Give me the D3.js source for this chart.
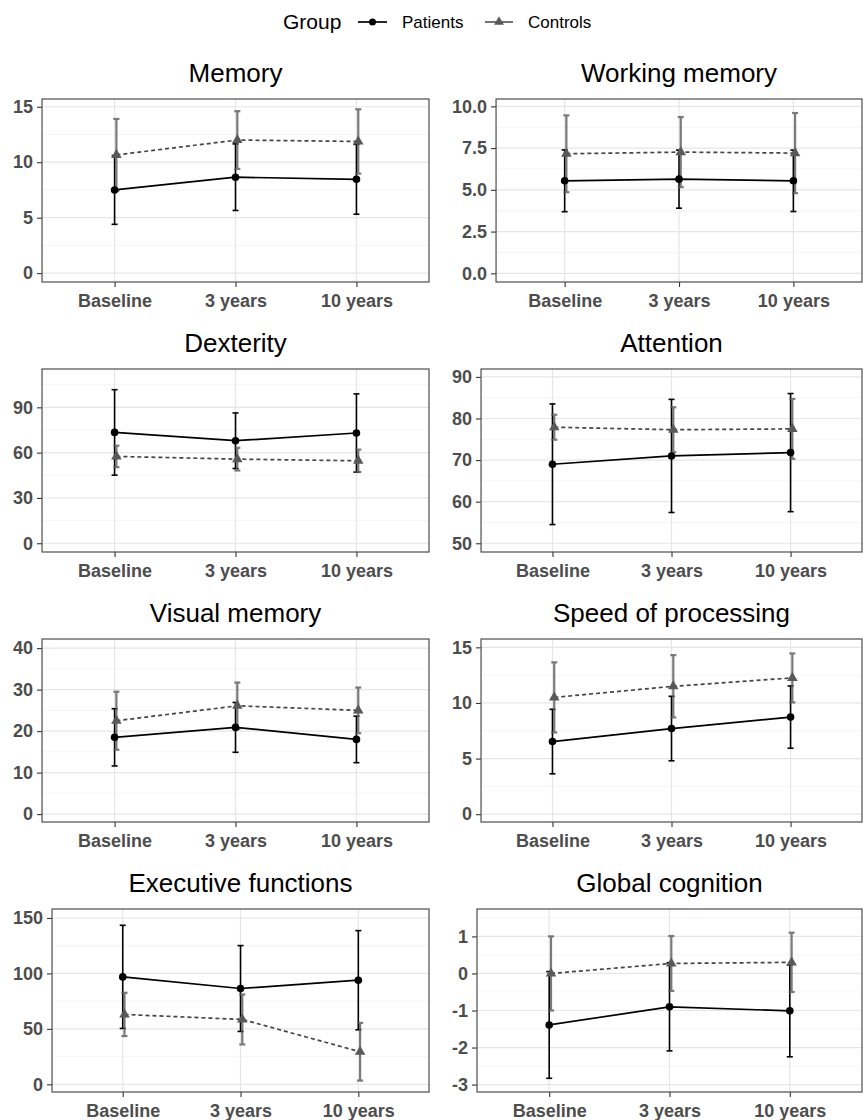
<!DOCTYPE html>
<html lang="en">
<head>
<meta charset="UTF-8">
<title>Cognitive domains over time - Patients vs Controls</title>
<script src="https://d3js.org/d3.v7.min.js"></script>
<style>
  body { margin: 0; background: #fff; }
  svg { font-family: "Liberation Sans", Arial, sans-serif; }
  /* axis tick labels, bold grey like theme_bw */
  .tick text { font-family: "Liberation Sans", Arial, sans-serif; font-size: 18px; font-weight: bold; fill: #4d4d4d; }
  .tick line { stroke: #333; stroke-width: 1.1; }
  .title { font-size: 26px; fill: #000; }
</style>
</head>
<body>
<div id="chart"></div>
<script>

// time points on the x axis
const timepoints = ["Baseline", "3 years", "10 years"];

// one panel per cognitive domain
const domains = ["Memory", "Working memory", "Dexterity", "Attention",
  "Visual memory", "Speed of processing", "Executive functions", "Global cognition"];

// group means and SDs
const patientsMean = [[7.5, 8.65, 8.46], [5.54, 5.64, 5.54], [73.4, 67.9, 73.0], [69.0, 71.0, 71.8],
  [18.5, 20.9, 18.0], [6.53, 7.7, 8.73], [96.9, 86.4, 93.9], [-1.39, -0.9, -1.01]];
const patientsSD = [[3.1, 3.0, 3.15], [1.85, 1.74, 1.84], [28.3, 18.4, 25.9], [14.5, 13.6, 14.2],
  [6.9, 6.0, 5.6], [2.9, 2.9, 2.8], [46.5, 38.7, 44.7], [1.44, 1.19, 1.24]];
const controlsMean = [[10.66, 12.0, 11.87], [7.16, 7.26, 7.2], [57.5, 55.7, 54.6], [77.9, 77.3, 77.5],
  [22.5, 26.1, 25.0], [10.5, 11.5, 12.25], [63, 58.5, 29.4], [0.0, 0.27, 0.30]];
const controlsSD = [[3.24, 2.6, 2.9], [2.3, 2.1, 2.4], [7.1, 7.5, 7.4], [3.0, 5.4, 7.2],
  [7.0, 5.6, 5.5], [3.15, 2.8, 2.2], [19.5, 22.5, 26], [1.0, 0.74, 0.8]];

// y axis ticks and limits per panel
const yTicks = [[0, 5, 10, 15], [0, 2.5, 5, 7.5, 10], [0, 30, 60, 90], [50, 60, 70, 80, 90],
  [0, 10, 20, 30, 40], [0, 5, 10, 15], [0, 50, 100, 150], [-3, -2, -1, 0, 1]];
const yDecimals = [0, 1, 0, 0, 0, 0, 0, 0];
const yLimits = [[-0.8, 15.7], [-0.52, 10.44], [-5.8, 115.4], [47.9, 91.9],
  [-1.9, 42.2], [-0.7, 15.75], [-6.9, 158.1], [-3.2, 1.74]];

const groups = ["Patients", "Controls"];

const W = 863, H = 1120;
const svg = d3.select("#chart").append("svg")
  .attr("width", W)
  .attr("height", H);

// grid layout: 2 columns x 4 rows
const cols = [{labelX: 13, right: 429}, {labelX: 452, right: 862}];
const rowTop = 99, rowStep = 270, plotH = 183;

const colPatients = "#000000", colControls = "#595959";

domains.forEach(function(name, i) {
  const col = cols[i % 2];
  const top = rowTop + rowStep * Math.floor(i / 2);
  const bottom = top + plotH;

  const y = d3.scaleLinear().domain(yLimits[i]).range([bottom, top]);

  const g = svg.append("g");
  const gridG = g.append("g");

  // y axis first so the label width sets the panel's left edge
  const yAxis = g.append("g")
    .call(d3.axisLeft(y).tickValues(yTicks[i]).tickSize(5).tickPadding(4)
      .tickFormat(d => d.toFixed(yDecimals[i])));
  yAxis.select(".domain").remove();
  let labelW = 0;
  yAxis.selectAll("text").each(function() { labelW = Math.max(labelW, this.getComputedTextLength()); });
  const left = col.labelX + labelW + 9;
  const right = col.right;
  yAxis.attr("transform", `translate(${left},0)`);

  const x = d3.scalePoint().domain(timepoints).range([left, right]).padding(0.6);
  const dodge = x.step() * 0.015;
  const xPos = (t, grp) => x(t) + (grp === "Controls" ? dodge : 0);

  // minor grid at midpoints
  const ticks = yTicks[i];
  const step = ticks[1] - ticks[0];
  const minor = [];
  for (let v = ticks[0] - step / 2; v <= yLimits[i][1]; v += step) {
    if (v >= yLimits[i][0]) minor.push(v);
  }
  gridG.append("g").selectAll("line").data(minor).join("line")
    .attr("x1", left).attr("x2", right)
    .attr("y1", d => y(d)).attr("y2", d => y(d))
    .attr("stroke", "#f3f3f3").attr("stroke-width", 0.8);
  gridG.append("g").selectAll("line").data(ticks).join("line")
    .attr("x1", left).attr("x2", right)
    .attr("y1", d => y(d)).attr("y2", d => y(d))
    .attr("stroke", "#e6e6e6").attr("stroke-width", 1.2);
  gridG.append("g").selectAll("line").data(timepoints).join("line")
    .attr("x1", d => x(d)).attr("x2", d => x(d))
    .attr("y1", top).attr("y2", bottom)
    .attr("stroke", "#e6e6e6").attr("stroke-width", 1.2);

  // x axis
  const xAxis = g.append("g")
    .attr("transform", `translate(0,${bottom})`)
    .call(d3.axisBottom(x).tickSize(5).tickPadding(7));
  xAxis.select(".domain").remove();

  // build rows per group
  const series = groups.map(function(grp) {
    const m = grp === "Patients" ? patientsMean[i] : controlsMean[i];
    const s = grp === "Patients" ? patientsSD[i] : controlsSD[i];
    return {group: grp, values: timepoints.map((t, k) => ({t: t, mean: m[k], sd: s[k], group: grp}))};
  });

  const marks = g.append("g");

  // error bars
  series.forEach(function(sr) {
    const c = sr.group === "Patients" ? colPatients : colControls;
    const eb = marks.append("g")
      .attr("stroke", c)
      .attr("stroke-width", sr.group === "Patients" ? 1.6 : 2.2)
      .attr("opacity", sr.group === "Patients" ? 1 : 0.8);
    eb.selectAll("line.v").data(sr.values).join("line").attr("class", "v")
      .attr("x1", d => xPos(d.t, d.group)).attr("x2", d => xPos(d.t, d.group))
      .attr("y1", d => y(d.mean - d.sd)).attr("y2", d => y(d.mean + d.sd));
    ["lo", "hi"].forEach(function(end) {
      eb.selectAll("line." + end).data(sr.values).join("line").attr("class", end)
        .attr("x1", d => xPos(d.t, d.group) - 3).attr("x2", d => xPos(d.t, d.group) + 3)
        .attr("y1", d => y(end === "lo" ? d.mean - d.sd : d.mean + d.sd))
        .attr("y2", d => y(end === "lo" ? d.mean - d.sd : d.mean + d.sd));
    });
  });

  // lines
  const line = d3.line().x(d => xPos(d.t, d.group)).y(d => y(d.mean));
  series.forEach(function(sr) {
    marks.append("path")
      .datum(sr.values)
      .attr("d", line)
      .attr("fill", "none")
      .attr("stroke", sr.group === "Patients" ? colPatients : "#454545")
      .attr("stroke-width", 1.7)
      .attr("stroke-dasharray", sr.group === "Patients" ? null : "4,3");
  });

  // points
  marks.append("g").selectAll("circle").data(series[0].values).join("circle")
    .attr("cx", d => xPos(d.t, d.group)).attr("cy", d => y(d.mean))
    .attr("r", 3.8).attr("fill", colPatients);
  marks.append("g").selectAll("path").data(series[1].values).join("path")
    .attr("d", d3.symbol(d3.symbolTriangle, 48))
    .attr("transform", d => `translate(${xPos(d.t, d.group)},${y(d.mean)})`)
    .attr("fill", colControls);

  // panel border
  g.append("rect")
    .attr("x", left).attr("y", top)
    .attr("width", right - left).attr("height", plotH)
    .attr("fill", "none").attr("stroke", "#4d4d4d").attr("stroke-width", 1.2);

  // title
  g.append("text")
    .attr("class", "title")
    .attr("x", (left + right) / 2)
    .attr("y", top - 17)
    .attr("text-anchor", "middle")
    .text(name);
});

// legend
const legend = svg.append("g");
legend.append("text").attr("x", 283).attr("y", 29).style("font-size", "21px").text("Group");
legend.append("line").attr("x1", 358).attr("x2", 387).attr("y1", 22).attr("y2", 22)
  .attr("stroke", colPatients).attr("stroke-width", 1.7);
legend.append("circle").attr("cx", 372.5).attr("cy", 22).attr("r", 3.5).attr("fill", colPatients);
legend.append("text").attr("x", 402).attr("y", 28).style("font-size", "17px").text(groups[0]);
legend.append("line").attr("x1", 485).attr("x2", 513).attr("y1", 22).attr("y2", 22)
  .attr("stroke", colControls).attr("stroke-width", 1.7);
legend.append("path").attr("d", d3.symbol(d3.symbolTriangle, 42))
  .attr("transform", "translate(499,22)").attr("fill", colControls);
legend.append("text").attr("x", 528).attr("y", 28).style("font-size", "17px").text(groups[1]);

</script>
</body>
</html>
